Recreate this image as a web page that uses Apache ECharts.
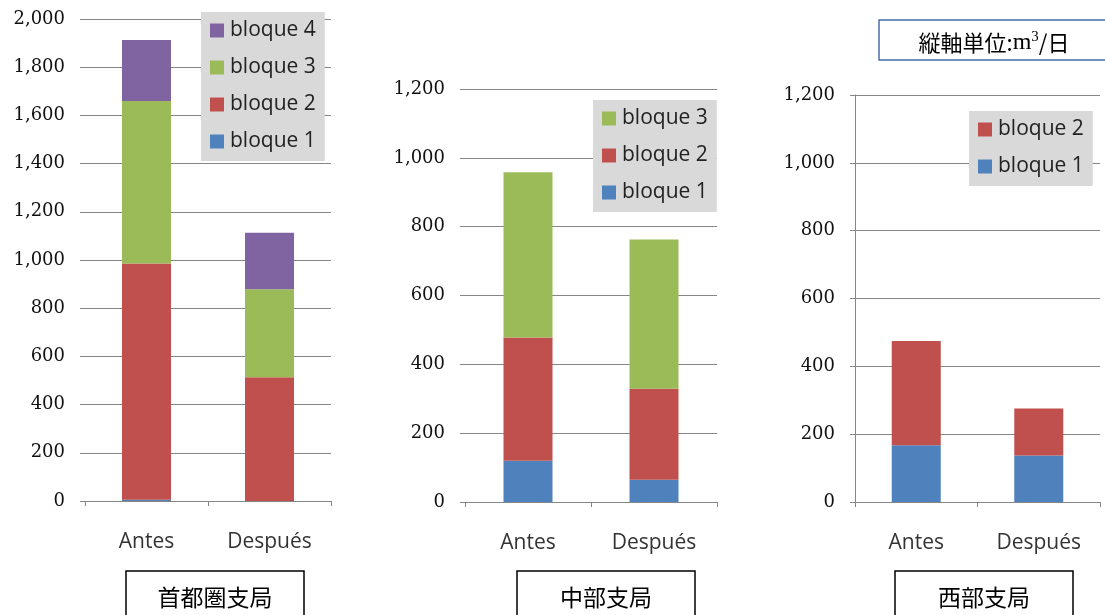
<!DOCTYPE html>
<html><head><meta charset="utf-8">
<script src="https://cdn.jsdelivr.net/npm/echarts@6/dist/echarts.min.js"></script>
<style>html,body{margin:0;padding:0;background:#fff}#c{width:1105px;height:615px}</style>
</head><body><div id="c"></div>
<script>
const categories = ['Antes', 'Después'];
// 首都圏支局
const kanto_b1 = [5, 0];
const kanto_b2 = [980, 513];
const kanto_b3 = [675, 366];
const kanto_b4 = [253, 234];
// 中部支局
const chubu_b1 = [120, 65];
const chubu_b2 = [358, 264];
const chubu_b3 = [480, 434];
// 西部支局
const seibu_b1 = [167, 137];
const seibu_b2 = [308, 139];

const panelTitles = ['首都圏支局', '中部支局', '西部支局'];
const yMax = [2000, 1200, 1200];
const yInterval = 200;

const colors = {'bloque 1':'#4f81bd','bloque 2':'#c0504d','bloque 3':'#9bbb59','bloque 4':'#8064a2'};

const grids = [
  {left:85, right:774, top:19, bottom:114},
  {left:465, right:388, top:89, bottom:113},
  {left:855, right:5, top:95, bottom:113}
];

function xAx(i){
  return {type:'category', gridIndex:i, data:categories,
    axisLine:{show:true, lineStyle:{color:'#868686', width:1}},
    axisTick:{show:true, length:5, alignWithLabel:false, lineStyle:{color:'#868686'}},
    axisLabel:{margin:31, fontFamily:'Open Sans', fontSize:21, color:'#333'}};
}
function yAx(i){
  return {type:'value', gridIndex:i, min:0, max:yMax[i], interval:yInterval,
    axisLine:{show:i===2, lineStyle:{color:'#868686'}},
    axisTick:{show:true, length:5, lineStyle:{color:'#868686'}},
    splitLine:{show:true, lineStyle:{color:'#868686', width:1}},
    axisLabel:{margin:20, fontFamily:'DejaVu Serif', fontSize:18, color:'#111',
      formatter:v=>v.toLocaleString('en-US')}};
}
function bar(name, data, i){
  return {name, type:'bar', stack:'s'+i, xAxisIndex:i, yAxisIndex:i, data, barWidth:49,
    itemStyle:{color:colors[name]}, animation:false};
}
function legend(names, left, top){
  return {orient:'vertical', left, top, data:names, backgroundColor:'#d9d9d9',
    padding:[8,9,9,9], itemWidth:14, itemHeight:14, itemGap:16, borderRadius:0,
    icon:'rect', textStyle:{fontFamily:'Open Sans', fontSize:21, color:'#222', padding:[0,0,0,1]}};
}
function box(x, y, w, h, text, stroke){
  return {type:'group', children:[
    {type:'rect', shape:{x, y, width:w, height:h}, style:{fill:'#fff', stroke:stroke||'#000', lineWidth:1.5}},
    {type:'text', x:x+w/2, y:y+26, style:{text, fill:'#000', font:'23px "Noto Sans CJK JP"', textAlign:'center', textVerticalAlign:'middle'}}
  ]};
}

const chart = echarts.init(document.getElementById('c'));
chart.setOption({
  animation:false,
  grid:grids,
  xAxis:[xAx(0), xAx(1), xAx(2)],
  yAxis:[yAx(0), yAx(1), yAx(2)],
  legend:[
    legend(['bloque 4','bloque 3','bloque 2','bloque 1'], 201, 12),
    legend(['bloque 3','bloque 2','bloque 1'], 593, 100),
    legend(['bloque 2','bloque 1'], 969, 111)
  ],
  series:[
    bar('bloque 1', kanto_b1, 0), bar('bloque 2', kanto_b2, 0), bar('bloque 3', kanto_b3, 0), bar('bloque 4', kanto_b4, 0),
    bar('bloque 1', chubu_b1, 1), bar('bloque 2', chubu_b2, 1), bar('bloque 3', chubu_b3, 1),
    bar('bloque 1', seibu_b1, 2), bar('bloque 2', seibu_b2, 2)
  ],
  graphic:[
    box(126, 571, 178, 60, panelTitles[0]),
    box(517, 571, 178, 60, panelTitles[1]),
    box(895, 571, 178, 60, panelTitles[2]),
    {type:'group', children:[
      {type:'rect', shape:{x:879, y:20, width:240, height:40}, style:{fill:'#fff', stroke:'#4a6ea9', lineWidth:1.5}},
      {type:'text', x:994, y:43, style:{
        text:'{a|縦軸単位:}{m|m}{s|3}{a|/日}', textAlign:'center', textVerticalAlign:'middle',
        rich:{a:{fontFamily:'Noto Sans CJK JP', fontSize:22, fill:'#000'},
              m:{fontFamily:'Liberation Serif', fontSize:24, fill:'#000'},
              s:{fontFamily:'Liberation Serif', fontSize:15, fill:'#000', verticalAlign:'top', padding:[0,0,12,0]}}}}
    ]}
  ]
});
</script></body></html>
